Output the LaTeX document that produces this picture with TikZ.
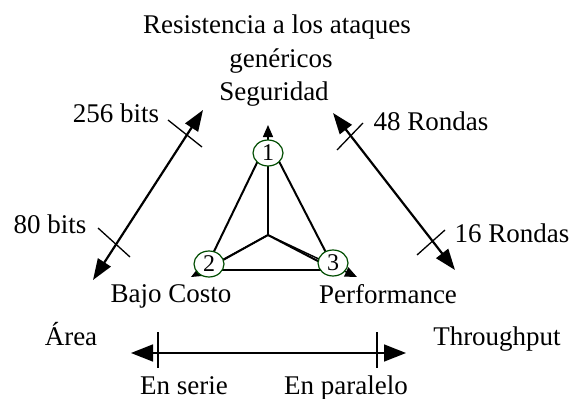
\documentclass[tikz,border=0pt]{standalone}
\usepackage{fontspec}
\setmainfont{Liberation Serif}
\usetikzlibrary{arrows.meta,backgrounds,shapes.geometric}
\begin{document}
\begin{tikzpicture}[x=1pt,y=-1pt,
  lbl/.style={inner sep=0pt,anchor=base,font=\fontsize{27}{30}\selectfont},
  num/.style={ellipse,draw=black!70!green,line width=1.2pt,fill=white,minimum width=30pt,minimum height=26pt,inner sep=0pt,font=\fontsize{24}{26}\selectfont},
  edge/.style={line width=2pt},
  bigarrow/.style={line width=2.2pt,{Triangle[length=21pt,width=15pt]}-{Triangle[length=21pt,width=15pt]}},
  harrow/.style={line width=1.6pt,{Triangle[length=22pt,width=17pt]}-{Triangle[length=22pt,width=17pt]}},
  smalltip/.style={line width=1.4pt,-{Triangle[length=12pt,width=10pt]}},
  tick/.style={line width=1.3pt}]
\useasboundingbox (0,0) rectangle (571,399);
% texts
\node[lbl] (title) at (277,33) {Resistencia a los ataques};
\node[lbl] (gen) at (281,67) {genéricos};
\node[lbl] (seg) at (274,100) {Seguridad};
\node[lbl] (b256) at (116,122) {256 bits};
\node[lbl] (b80) at (50,233) {80 bits};
\node[lbl] (r48) at (431,130) {48 Rondas};
\node[lbl] (r16) at (512,242) {16 Rondas};
\node[lbl] (bajo) at (171,302) {Bajo Costo};
\node[lbl] (perf) at (388,303) {Performance};
\node[lbl] (area) at (71,345) {Área};
\node[lbl] (thr) at (497,345) {Throughput};
\node[lbl] (serie) at (184,394) {En serie};
\node[lbl] (para) at (346,394) {En paralelo};
% triangle
\node[num] (c1) at (268,153) {1};
\node[num] (c2) at (209,264) {2};
\node[num] (c3) at (333,263) {3};
\coordinate (ctr) at (268,235);
\coordinate (v1) at (268,140);
\coordinate (v2) at (205,270);
\coordinate (v3) at (335,270);
\coordinate (t1) at (268,125);
\coordinate (t2) at (191,277);
\coordinate (t3) at (357,277);
\begin{scope}[on background layer]
\draw[edge] (ctr) -- (v1);
\draw[edge] (ctr) -- (v2);
\draw[edge] (ctr) -- (v3);
\draw[edge] (v1) -- (v2);
\draw[edge] (v1) -- (v3);
\draw[edge] (v2) -- (v3);
\draw[smalltip] (ctr) -- (t1);
\draw[smalltip] (ctr) -- (t2);
\draw[smalltip] (ctr) -- (t3);
\end{scope}
% left arrow
\coordinate (la) at (93,280);
\coordinate (lb) at (203,110);
\draw[bigarrow] (la) -- (lb);
\coordinate (lt1a) at (168,120); \coordinate (lt1b) at (202,147);
\coordinate (lt2a) at (98,228); \coordinate (lt2b) at (130,257);
\draw[tick] (lt1a) -- (lt1b);
\draw[tick] (lt2a) -- (lt2b);
% right arrow
\coordinate (ra) at (333,113);
\coordinate (rb) at (455,270);
\draw[bigarrow] (ra) -- (rb);
\coordinate (rt1a) at (337,150); \coordinate (rt1b) at (363,123);
\coordinate (rt2a) at (417,255); \coordinate (rt2b) at (445,230);
\draw[tick] (rt1a) -- (rt1b);
\draw[tick] (rt2a) -- (rt2b);
% bottom arrow
\coordinate (ha) at (131,353);
\coordinate (hb) at (406,353);
\draw[harrow] (ha) -- (hb);
\coordinate (ht1a) at (158,332); \coordinate (ht1b) at (158,368);
\coordinate (ht2a) at (377,332); \coordinate (ht2b) at (377,368);
\draw[tick] (ht1a) -- (ht1b);
\draw[tick] (ht2a) -- (ht2b);
\end{tikzpicture}
\end{document}
